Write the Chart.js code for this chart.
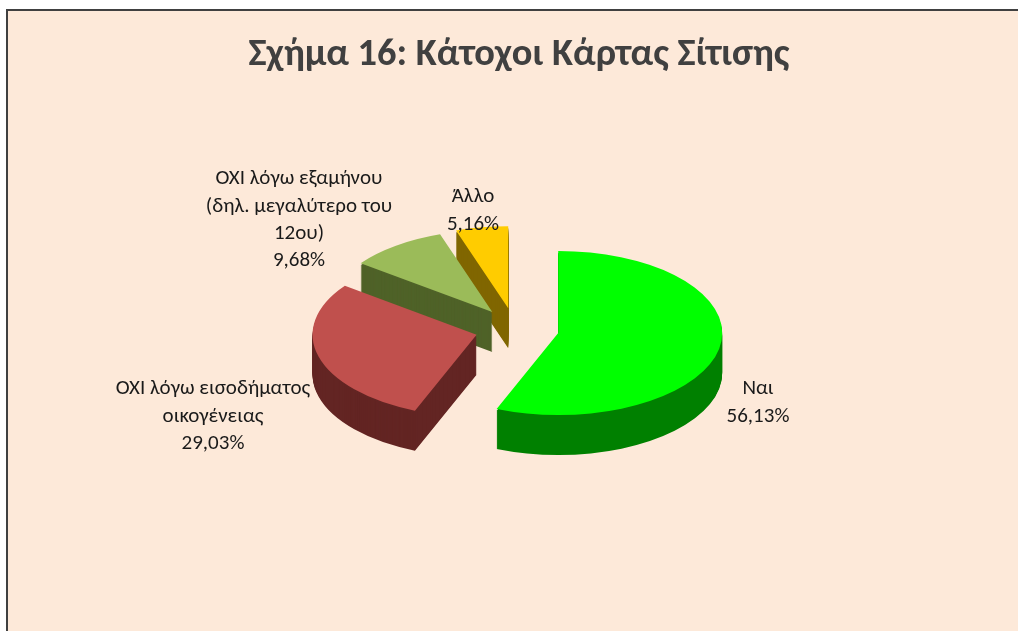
<!DOCTYPE html>
<html><head><meta charset="utf-8">
<style>html,body{margin:0;padding:0;background:#fff;overflow:hidden}canvas{display:block}</style>
<script src="https://cdn.jsdelivr.net/npm/chart.js@4/dist/chart.umd.min.js"></script>
</head><body><div style="width:1018px;height:631px"><canvas id="c" width="1018" height="631"></canvas></div>
<script>
const categories = [['Ναι'], ['ΟΧΙ λόγω εισοδήματος', 'οικογένειας'], ['ΟΧΙ λόγω εξαμήνου', '(δηλ. μεγαλύτερο του', '12ου)'], ['Άλλο']];
const values = [56.13, 29.03, 9.68, 5.16];
const topColors = ['#00FF00', '#C0504D', '#9BBB59', '#FFCC00'];
const wallColors = ['#008000', '#632523', '#4F6228', '#806600'];
const titleText = 'Σχήμα 16: Κάτοχοι Κάρτας Σίτισης';
const labelAnchors = [[758, 389], [213, 389], [299, 179], [473, 197]];
const sliceNudgeX = [0, 0, 0, -2];

const FONT = 'Carlito, Lato, "Open Sans", sans-serif';
const CENTER = {x: 517, y: 329}, SQUASH = 0.5, EXPLODE = 42, DEPTH = 40, LINE = 27.3;

const pie3d = {
  id: 'pie3d',
  beforeDraw(chart) {
    const ctx = chart.ctx;
    ctx.save();
    ctx.fillStyle = '#FDE9D9';
    ctx.fillRect(7, 10, 1011, 621);
    ctx.fillStyle = '#404040';
    ctx.fillRect(6, 9, 1012, 2);
    ctx.fillRect(6, 9, 2, 622);
    ctx.restore();
  },
  beforeDatasetsDraw(chart) {
    const ctx = chart.ctx;
    const arcs = chart.getDatasetMeta(0).data;
    for (let i = arcs.length - 1; i >= 0; i--) {
      const arc = arcs[i], mid = (arc.startAngle + arc.endAngle) / 2;
      const place = (dy) => {
        ctx.save();
        ctx.translate(CENTER.x + sliceNudgeX[i], CENTER.y + dy);
        ctx.scale(1, SQUASH);
        ctx.translate(Math.cos(mid) * EXPLODE - arc.x, Math.sin(mid) * EXPLODE - arc.y);
      };
      const base = arc.options;
      arc.options = Object.assign({}, base, {backgroundColor: wallColors[i], borderWidth: 0, offset: 0});
      for (let d = DEPTH; d > 1; d--) { place(d); arc.draw(ctx); ctx.restore(); }
      arc.options = Object.assign({}, base, {backgroundColor: topColors[i], borderWidth: 0, offset: 0});
      place(0); arc.draw(ctx); ctx.restore();
      arc.options = base;
    }
    return false;
  },
  afterDraw(chart) {
    const ctx = chart.ctx;
    ctx.save();
    ctx.font = '21px ' + FONT;
    ctx.fillStyle = '#1a1a1a';
    ctx.textAlign = 'center';
    ctx.textBaseline = 'middle';
    categories.forEach((lines, i) => {
      const all = lines.concat(values[i].toFixed(2).replace('.', ',') + '%');
      all.forEach((t, k) => ctx.fillText(t, labelAnchors[i][0], labelAnchors[i][1] + k * LINE));
    });
    ctx.restore();
  }
};

new Chart(document.getElementById('c'), {
  type: 'pie',
  data: {labels: categories.map(l => l.join(' ')), datasets: [{data: values, backgroundColor: topColors, borderWidth: 0, hoverOffset: 0}]},
  options: {
    responsive: false, animation: false, radius: 164,
    layout: {padding: {left: 20, top: 10}},
    events: [],
    plugins: {
      legend: {display: false}, tooltip: {enabled: false},
      title: {display: true, text: titleText, color: '#404040', font: {family: FONT, size: 38.4, weight: 'bold'}, padding: {top: 22, bottom: 10}}
    }
  },
  plugins: [pie3d]
});
</script></body></html>
